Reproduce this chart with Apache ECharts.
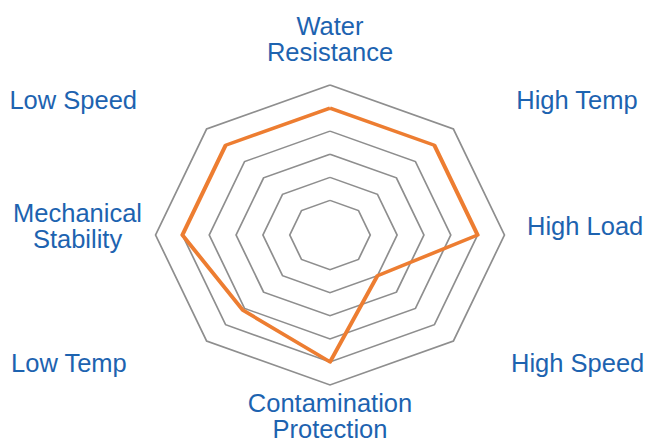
<!DOCTYPE html>
<html>
<head>
<meta charset="utf-8">
<script src="https://cdn.jsdelivr.net/npm/echarts@6/dist/echarts.min.js"></script>
<style>
  html, body { margin: 0; padding: 0; background: #fff; overflow: hidden; }
  .layer { position: absolute; left: 0; top: 0; width: 648px; height: 443px; }
  /* the reference plot is wider than tall, so the web is stretched sideways */
  #plot { transform-origin: 330px 235px; transform: scaleX(1.163); }
</style>
</head>
<body>
<div id="plot" class="layer"></div>
<div id="labels" class="layer"></div>
<script>
// indicators in ECharts order (counter-clockwise from the top)
var indicatorNames = ['Water\nResistance', 'Low Speed', 'Mechanical\nStability', 'Low Temp',
  'Contamination\nProtection', 'High Speed', 'High Load', 'High Temp']
var ratings = [4, 4, 4, 3.1, 4, 1, 4, 4]
var ratingMin = 0
var ratingMax = 5

var textColor = '#1d63b0'
var fontFamily = 'Liberation Sans, Arial, sans-serif'

var indicators = indicatorNames.map(function(name) {
  return { name: name, min: ratingMin, max: ratingMax }
})

// web + data line, stretched by css
var plot = echarts.init(document.getElementById('plot'), null, { renderer: 'svg' })
plot.setOption({
  animation: false,
  radar: {
    center: [330, 235],
    radius: [34.6, 150],
    shape: 'polygon',
    splitNumber: 5,
    indicator: indicators,
    axisName: { show: false },
    axisLine: { show: false },
    axisTick: { show: false },
    axisLabel: { show: false },
    splitArea: { show: false },
    splitLine: {
      lineStyle: { color: '#8e8e8e', width: 1.5 }
    }
  },
  series: [{
    type: 'radar',
    silent: true,
    symbol: 'none',
    lineStyle: { color: '#ED7D31', width: 3.5 },
    data: [{ value: ratings }]
  }]
})

// axis names, drawn unstretched with invisible radars
function nameRadar(center, reach, shown) {
  return {
    center: center,
    radius: 5,
    nameGap: reach - 5,
    shape: 'polygon',
    indicator: indicators,
    axisLine: { show: false },
    axisTick: { show: false },
    axisLabel: { show: false },
    splitLine: { show: false },
    splitArea: { show: false },
    axisName: {
      color: textColor,
      fontFamily: fontFamily,
      fontSize: 25.5,
      lineHeight: 26,
      formatter: function(value) {
        if (shown.indexOf(value) < 0) return ''
        return value.split('\n').map(function(s) { return '{c|' + s + '}' }).join('\n')
      },
      rich: {
        c: { align: 'center', color: textColor, fontFamily: fontFamily, fontSize: 25.5, lineHeight: 26 }
      }
    }
  }
}

var labels = echarts.init(document.getElementById('labels'), null, { renderer: 'svg' })
labels.setOption({
  animation: false,
  radar: [
    nameRadar([330, 227.5], 162.5, ['Water\nResistance', 'Contamination\nProtection']),
    nameRadar([334.5, 225.5], 192.5, ['Mechanical\nStability', 'High Load']),
    nameRadar([326.5, 289.5], 268, ['High Temp', 'Low Speed']),
    nameRadar([319, 171], 271.5, ['High Speed', 'Low Temp'])
  ]
})
</script>
</body>
</html>
